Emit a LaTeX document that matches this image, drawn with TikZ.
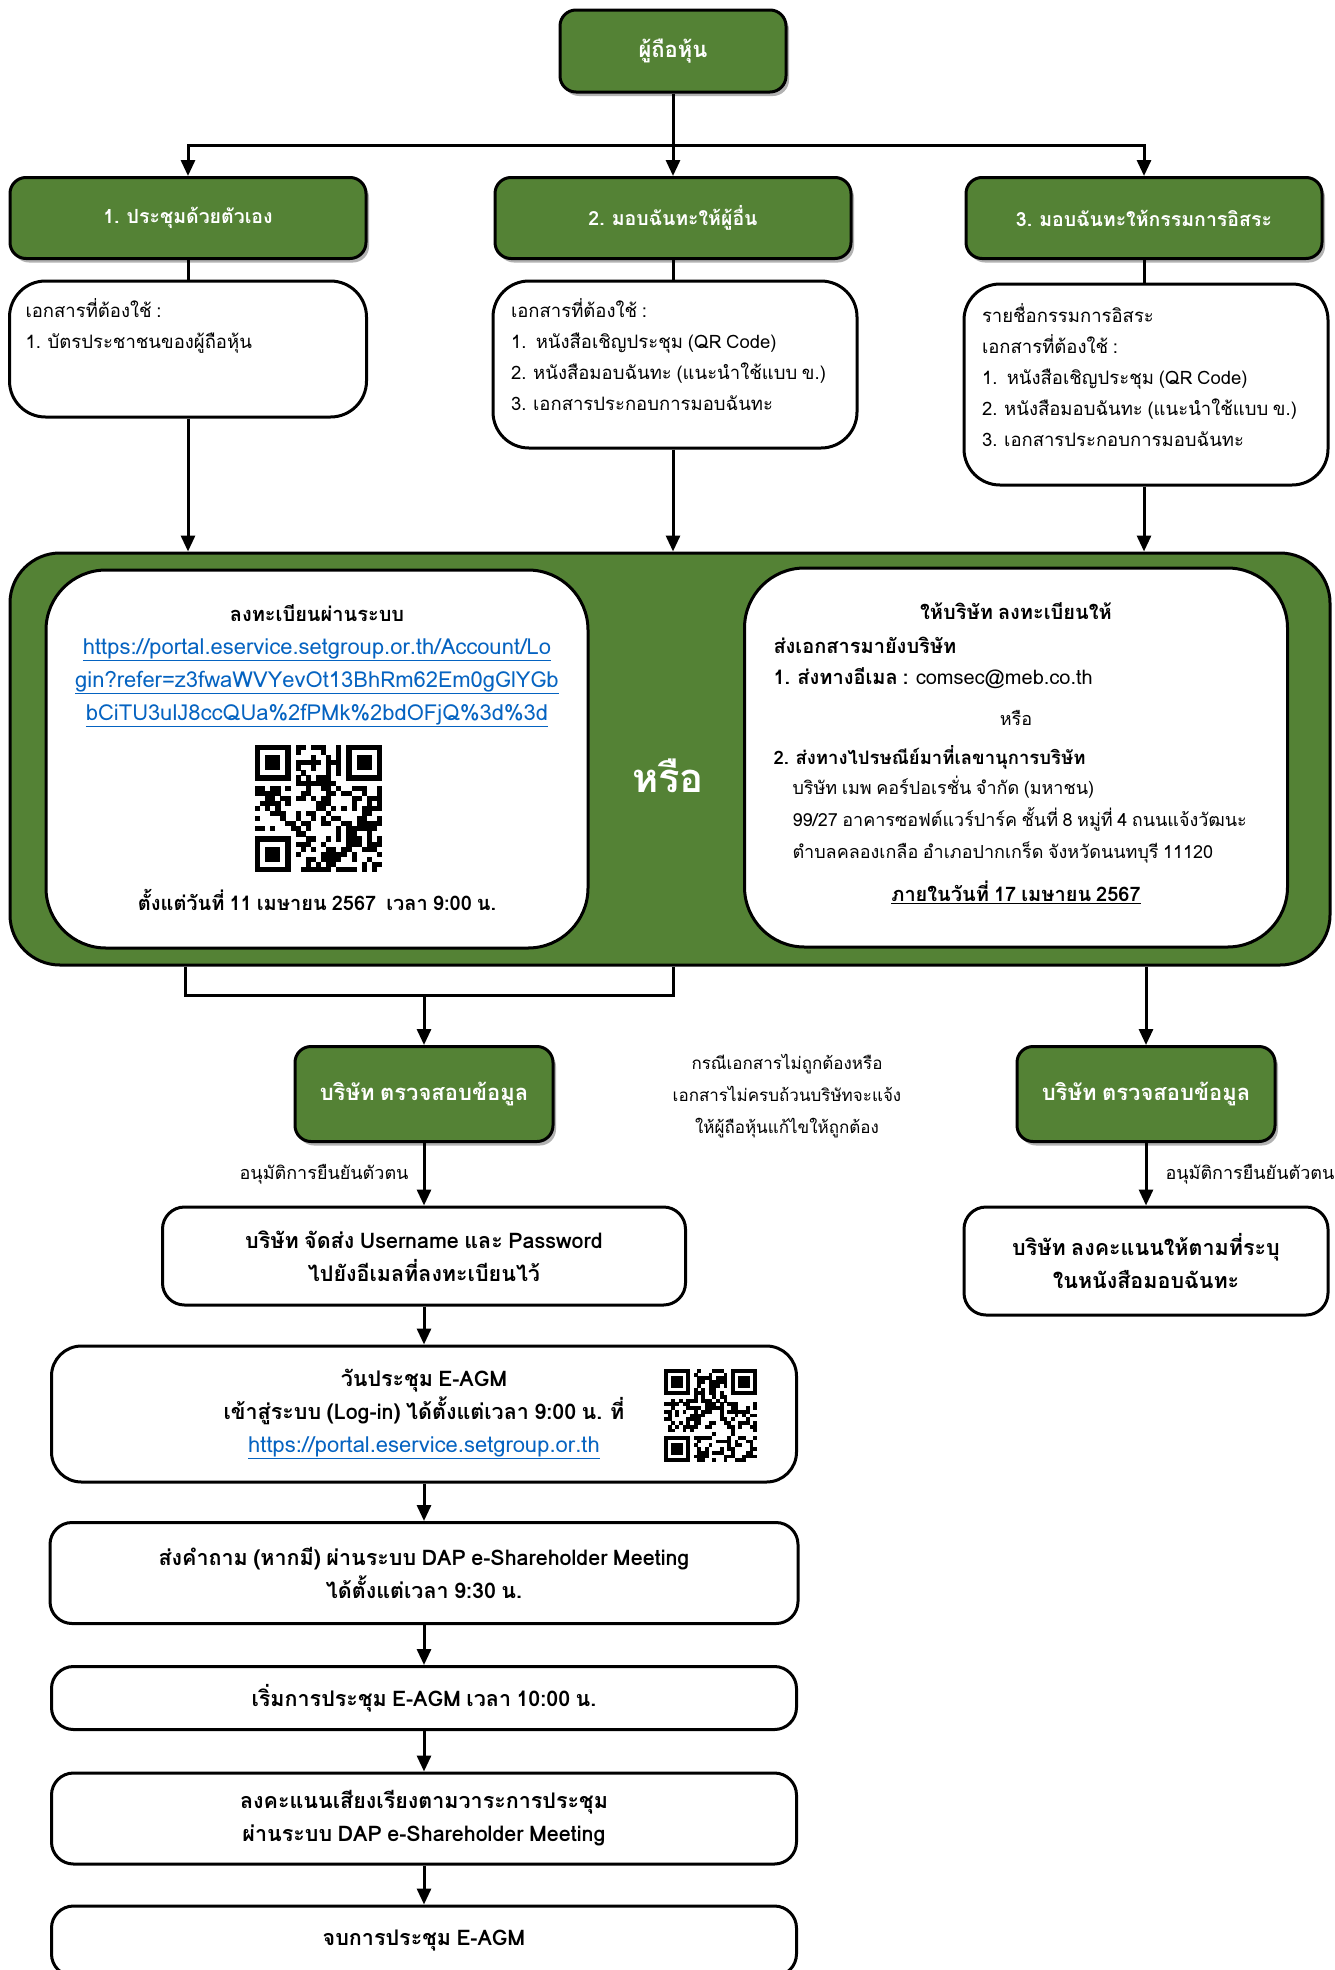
\documentclass[tikz,border=0pt]{standalone}
\usepackage{fontspec}
\setmainfont[Script=Thai, WordSpace=0.75]{Loma}
\usepackage{tikz}
\usetikzlibrary{arrows.meta, positioning, shadows}

\definecolor{boxgreen}{RGB}{84,130,53}
\definecolor{linkblue}{RGB}{5,99,193}

\newcommand{\weblink}[1]{{\color{linkblue}\underline{#1}}}

\tikzset{
  >={Triangle[length=16pt,width=14pt]},
  plain/.style={inner sep=0pt, font=\fontsize{20}{31}\selectfont},
  boldtxt/.style={inner sep=0pt, font=\fontsize{20}{31}\selectfont\bfseries},
  shade/.style={drop shadow={shadow xshift=3pt, shadow yshift=-4pt, opacity=0.3, fill=black}},
  gbox/.style={draw, line width=3pt, fill=boxgreen, rounded corners=16pt, text=white,
    font=\fontsize{22}{31}\selectfont\bfseries, shade},
  optbox/.style={gbox, minimum width=356pt, minimum height=81pt,
    font=\fontsize{19.5}{31}\selectfont\bfseries},
  docbox/.style={draw, line width=3pt, fill=white, rounded corners=36pt},
  doctxt/.style={inner sep=0pt, align=left, font=\fontsize{18.5}{31}\selectfont},
  stepbox/.style={draw, line width=3pt, fill=white, rounded corners=22pt, align=center,
    font=\fontsize{21.5}{33}\selectfont\bfseries},
  qr/.pic={
    \foreach \i in {0,...,24}{
      \foreach \j in {0,...,24}{
        \pgfmathtruncatemacro{\bit}{((\i<8 && \j<8) || (\i>16 && \j<8) || (\i<8 && \j>16)) ? 0 : rnd+0.48}
        \ifnum\bit=1 \fill (\i,\j) rectangle ++(1.02,1.02); \fi
      }
    }
    \foreach \a/\b in {0/0,18/0,0/18}{
      \fill (\a,\b) rectangle ++(7,7);
      \fill[white] (\a+1,\b+1) rectangle ++(5,5);
      \fill (\a+2,\b+2) rectangle ++(3,3);
    }
  }
}

\begin{document}
\begin{tikzpicture}[x=1pt, y=-1pt, line width=3pt]
      \useasboundingbox (0,0) rectangle (1335,1970);
      \pgfmathsetseed{2567}

      \node[gbox, minimum width=226pt, minimum height=82pt] (holder) at (673,51) {ผู้ถือหุ้น};
      \coordinate (split) at (673,145);

      \node[optbox] (opt1) at (188,218) {1. ประชุมด้วยตัวเอง};
      \node[optbox] (opt2) at (673,218) {2. มอบฉันทะให้ผู้อื่น};
      \node[optbox] (opt3) at (1144,218) {3. มอบฉันทะให้กรรมการอิสระ};

      \draw (holder) -- (split);
      \draw[->] (split) -| (opt1);
      \draw[->] (split) -- (opt2);
      \draw[->] (split) -| (opt3);

      \node[docbox, minimum width=357pt, minimum height=136pt] (need1) at (188,349) {};
      \node[docbox, minimum width=364pt, minimum height=167pt] (need2) at (675,364.5) {};
      \node[docbox, minimum width=364pt, minimum height=201pt] (need3) at (1146,384.5) {};

      \node[doctxt, below right=17pt and 16pt of need1.north west] (need1txt)
        {เอกสารที่ต้องใช้ :\\1. บัตรประชาชนของผู้ถือหุ้น};
      \node[doctxt, below right=17pt and 18pt of need2.north west] (need2txt)
        {เอกสารที่ต้องใช้ :\\1.\ \ หนังสือเชิญประชุม (QR Code)\\2. หนังสือมอบฉันทะ (แนะนำใช้แบบ ข.)\\3. เอกสารประกอบการมอบฉันทะ};
      \node[doctxt, below right=19pt and 18pt of need3.north west] (need3txt)
        {รายชื่อกรรมการอิสระ\\เอกสารที่ต้องใช้ :\\1.\ \ หนังสือเชิญประชุม (QR Code)\\2. หนังสือมอบฉันทะ (แนะนำใช้แบบ ข.)\\3. เอกสารประกอบการมอบฉันทะ};

      \draw (opt1.south) -- (opt1.south |- need1.north);
      \draw (opt2.south) -- (opt2.south |- need2.north);
      \draw (opt3.south) -- (opt3.south |- need3.north);

      \node[draw, line width=3pt, fill=boxgreen, rounded corners=50pt,
        minimum width=1320pt, minimum height=412pt] (hub) at (670,759) {};

      \draw[->] (opt1.south |- need1.south) -- (opt1.south |- hub.north);
      \draw[->] (opt2.south |- need2.south) -- (opt2.south |- hub.north);
      \draw[->] (opt3.south |- need3.south) -- (opt3.south |- hub.north);

      \node[docbox, rounded corners=60pt, minimum width=542pt, minimum height=378pt] (reg) at (317,759) {};
      \node[docbox, rounded corners=60pt, minimum width=543pt, minimum height=379pt] (mail) at (1016,757.5) {};
      \node[text=white, font=\fontsize{40}{40}\selectfont\bfseries] (orword) at (668,776) {หรือ};

      \node[boldtxt] (regtitle) at (317,613) {ลงทะเบียนผ่านระบบ};
      \node[plain, align=center, font=\fontsize{22}{33}\selectfont, below=14pt of regtitle] (reglink)
        {\weblink{https://portal.eservice.setgroup.or.th/Account/Lo}\\
         \weblink{gin?refer=z3fwaWVYevOt13BhRm62Em0gGlYGb}\\
         \weblink{bCiTU3ulJ8ccQUa\%2fPMk\%2bdOFjQ\%3d\%3d}};
      \pic[scale=5.08] at (255,745) {qr};
      \node[boldtxt] (regdate) at (317,900) {ตั้งแต่วันที่ 11 เมษายน 2567\ \ เวลา 9:00 น.};

      \node[boldtxt] (mailtitle) at (1016,611) {ให้บริษัท ลงทะเบียนให้};
      \node[boldtxt, anchor=west] (mailsend) at (772,645) {ส่งเอกสารมายังบริษัท};
      \node[plain, anchor=west] (mailone) at (772,678) {\textbf{1. ส่งทางอีเมล :} comsec@meb.co.th};
      \node[plain, font=\fontsize{18}{31}\selectfont] (mailor) at (1016,718) {หรือ};
      \node[boldtxt, anchor=west, font=\fontsize{18.5}{31}\selectfont\bfseries] (mailtwo) at (772,757) {2. ส่งทางไปรษณีย์มาที่เลขานุการบริษัท};
      \node[doctxt, anchor=west, font=\fontsize{18}{32}\selectfont] (mailaddr) at (791,820)
        {บริษัท เมพ คอร์ปอเรชั่น จำกัด (มหาชน)\\99/27 อาคารซอฟต์แวร์ปาร์ค ชั้นที่ 8 หมู่ที่ 4 ถนนแจ้งวัฒนะ\\ตำบลคลองเกลือ อำเภอปากเกร็ด จังหวัดนนทบุรี 11120};
      \node[boldtxt] (maildue) at (1016,892) {\underline{ภายในวันที่ 17 เมษายน 2567}};

      \coordinate (join) at (424,995);
      \draw (185,0 |- hub.south) |- (join) -| (673,0 |- hub.south);

      \node[gbox, minimum width=258pt, minimum height=95pt] (check1) at (424,1094) {บริษัท ตรวจสอบข้อมูล};
      \node[gbox, minimum width=258pt, minimum height=95pt] (check2) at (1146,1094) {บริษัท ตรวจสอบข้อมูล};
      \node[plain, align=center, font=\fontsize{17}{32}\selectfont] (note) at (787,1096)
        {กรณีเอกสารไม่ถูกต้องหรือ\\เอกสารไม่ครบถ้วนบริษัทจะแจ้ง\\ให้ผู้ถือหุ้นแก้ไขให้ถูกต้อง};

      \draw[->] (join) -- (check1);
      \draw[->] (1146,0 |- hub.south) -- (check2);

      \node[stepbox, minimum width=523pt, minimum height=98pt] (creds) at (424,1256)
        {บริษัท จัดส่ง Username และ Password\\ไปยังอีเมลที่ลงทะเบียนไว้};
      \node[stepbox, minimum width=364pt, minimum height=108pt] (proxyvote) at (1146,1261)
        {บริษัท ลงคะแนนให้ตามที่ระบุ\\ในหนังสือมอบฉันทะ};

      \draw[->] (check1) -- (creds) node[plain, font=\fontsize{18}{22}\selectfont, midway, left=14pt] {อนุมัติการยืนยันตัวตน};
      \draw[->] (check2) -- (proxyvote) node[plain, font=\fontsize{18}{22}\selectfont, midway, right=18pt] {อนุมัติการยืนยันตัวตน};

      \node[stepbox, rounded corners=30pt, minimum width=745pt, minimum height=136pt] (login) at (424,1414)
        {วันประชุม E-AGM\\เข้าสู่ระบบ (Log-in) ได้ตั้งแต่เวลา 9:00 น. ที่\\
         \mdseries\fontsize{22}{33}\selectfont\weblink{https://portal.eservice.setgroup.or.th}};
      \pic[scale=3.72] at (664,1369) {qr};
      \node[stepbox, minimum width=748pt, minimum height=101pt] (ask) at (424,1573)
        {ส่งคำถาม (หากมี) ผ่านระบบ DAP e-Shareholder Meeting\\ได้ตั้งแต่เวลา 9:30 น.};
      \node[stepbox, minimum width=745pt, minimum height=63pt] (start) at (424,1698)
        {เริ่มการประชุม E-AGM เวลา 10:00 น.};
      \node[stepbox, minimum width=745pt, minimum height=91pt] (vote) at (424,1818.5)
        {ลงคะแนนเสียงเรียงตามวาระการประชุม\\ผ่านระบบ DAP e-Shareholder Meeting};
      \node[stepbox, minimum width=745pt, minimum height=70pt] (close) at (424,1941)
        {จบการประชุม E-AGM};

      \draw[->] (creds) -- (login);
      \draw[->] (login) -- (ask);
      \draw[->] (ask) -- (start);
      \draw[->] (start) -- (vote);
      \draw[->] (vote) -- (close);

    \end{tikzpicture}
\end{document}
